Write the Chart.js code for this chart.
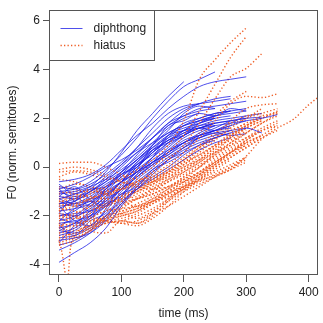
<!DOCTYPE html>
<html>
<head>
<meta charset="utf-8">
<script src="https://cdn.jsdelivr.net/npm/chart.js@4.4.1/dist/chart.umd.min.js"></script>
<style>
  html, body { margin: 0; padding: 0; background: #fff; }
  #wrap { width: 323px; height: 323px; }
</style>
</head>
<body>
<div id="wrap"><canvas id="f0Chart"></canvas></div>
<script>
// sample times (ms) shared by the contours
const timeGrid = [0, 25, 50, 75, 100, 125, 150, 175, 200, 225, 250, 275, 300, 325, 350, 375, 400, 425];
const xTicks = [0, 100, 200, 300, 400];
const yTicks = [-4, -2, 0, 2, 4, 6];

// F0 contours, one value per timeGrid step (contour ends where its array ends)
const diphthong = [
  [-0.6, -0.5, -0.3, 0.1, 0.7, 1.3, 1.8, 2.4, 2.9, 3.3, 3.5, 3.6, 3.7],
  [-1.0, -0.9, -0.6, -0.1, 0.5, 1.2, 2.0, 2.7, 3.3, 3.6, 3.9],
  [-1.3, -1.1, -0.8, -0.2, 0.6, 1.5, 2.2, 2.9, 3.5],
  [-1.5, -1.4, -1.0, -0.5, 0.1, 0.8, 1.6, 2.2, 2.5, 2.6, 2.7, 2.8],
  [-2.0, -1.8, -1.3, -0.8, -0.2, 0.5, 1.2, 1.8, 2.1, 2.3, 2.4],
  [-2.5, -2.3, -1.8, -1.2, -0.6, 0.0, 0.7, 1.3, 1.8, 2.0, 2.2, 2.3, 2.4],
  [-3.9, -3.5, -3.1, -2.5, -1.6, -0.9, -0.3, 0.3, 0.8, 1.2, 1.5, 1.7, 1.9, 2.0, 2.15],
  [-3.0, -2.9, -2.7, -2.2, -1.5, -0.8, -0.2, 0.3, 0.7, 1.0, 1.2, 1.4],
  [-2.8, -2.6, -2.1, -1.5, -0.9, -0.4, 0.2, 0.8, 1.3, 1.6, 1.8, 1.9, 2.0, 2.05],
  [-2.2, -2.0, -1.5, -0.9, -0.3, 0.3, 0.9, 1.4, 1.7, 1.9, 2.1, 2.3],
  [-1.8, -1.7, -1.5, -1.0, -0.4, 0.2, 0.8, 1.3, 1.5, 1.6, 1.8],
  [-1.2, -1.3, -1.1, -0.7, -0.3, 0.1, 0.6, 1.1, 1.5, 1.8, 2.0, 2.1],
  [-0.8, -0.9, -0.7, -0.3, 0.2, 0.8, 1.4, 2.0, 2.4, 2.6],
  [-2.6, -2.7, -2.4, -1.8, -1.0, -0.4, 0.1, 0.5, 0.9, 1.2, 1.4, 1.5, 1.6, 1.4],
  [-1.6, -1.5, -1.2, -0.8, -0.5, -0.1, 0.4, 0.9, 1.3, 1.6, 1.8],
  [-2.3, -2.2, -2.0, -1.6, -1.1, -0.6, -0.1, 0.4, 0.8, 1.1, 1.3, 1.5],
  [-3.2, -3.0, -2.6, -2.0, -1.3, -0.7, -0.2, 0.3, 0.6, 0.9, 1.1],
  [-1.9, -2.0, -1.7, -1.2, -0.6, 0.0, 0.6, 1.2, 1.7, 2.0, 2.2, 2.3],
  [-1.1, -1.0, -0.8, -0.5, -0.1, 0.4, 1.0, 1.6, 2.0, 2.2],
  [-2.7, -2.5, -2.0, -1.3, -0.6, 0.1, 0.7, 1.1, 1.4, 1.6, 1.7, 1.8, 1.9],
  [-1.4, -1.6, -1.4, -1.0, -0.6, -0.2, 0.3, 0.7, 1.0, 1.3, 1.5, 1.6],
  [-2.1, -2.3, -2.1, -1.6, -0.9, -0.3, 0.2, 0.6, 1.0, 1.4, 1.7],
  [-0.9, -0.7, -0.4, 0.0, 0.3, 0.7, 1.2, 1.7, 2.1, 2.4, 2.5, 2.6, 2.7],
  [-2.9, -2.8, -2.5, -2.0, -1.4, -0.9, -0.5, -0.1, 0.3, 0.7, 1.0, 1.2],
  [-1.7, -1.4, -1.0, -0.6, -0.2, 0.3, 0.8, 1.2, 1.5, 1.7, 1.8, 1.9, 2.0],
  [-2.4, -2.1, -1.6, -1.1, -0.6, -0.2, 0.2, 0.6, 1.0, 1.3, 1.5],
  [-1.3, -1.5, -1.3, -0.9, -0.4, 0.1, 0.5, 1.0, 1.4, 1.7, 1.9, 2.0, 2.1, 2.2],
  [-3.4, -3.1, -2.7, -2.1, -1.5, -0.9, -0.4, 0.0, 0.5, 0.9, 1.2, 1.4, 1.6],
  [-2.0, -1.9, -1.8, -1.4, -0.9, -0.4, 0.1, 0.7, 1.2, 1.5, 1.7],
  [-1.0, -1.2, -1.0, -0.6, 0.0, 0.6, 1.2, 1.8, 2.3, 2.6, 2.8, 2.9],
  [-2.6, -2.3, -1.9, -1.4, -0.8, -0.2, 0.4, 1.0, 1.5, 1.9, 2.1, 2.2, 2.3],
  [-1.5, -1.3, -0.9, -0.4, 0.1, 0.6, 1.0, 1.4, 1.7, 1.9, 2.0],
  [-1.9, -1.2, -1.6, -0.9, -0.3, 0.0, 0.6, 1.1, 1.3, 1.6, 1.5, 1.7],
  [-2.4, -2.8, -2.2, -1.9, -1.2, -0.3, 0.2, 0.5, 1.0, 1.2, 1.4, 1.3, 1.37],
  [-0.7, -1.1, -0.9, -0.8, -0.2, 0.3, 0.9, 1.7, 1.9, 2.2, 2.1, 2.4, 2.3],
  [-1.6, -2.2, -2.4, -1.7, -0.7, -0.2, 0.4, 1.3, 1.6, 1.8, 2.0],
  [-3.1, -2.4, -2.0, -1.5, -1.2, -0.5, 0.0, 0.6, 1.1, 1.3, 1.5, 1.8, 2.1],
  [-1.2, -0.8, -1.3, -1.1, -0.6, 0.2, 0.7, 1.0, 1.3, 1.8, 2.1],
  [-2.2, -1.7, -1.4, -1.6, -1.1, -0.8, -0.1, 0.2, 0.6, 1.3, 1.6, 1.9],
  [-0.9, -1.4, -1.8, -1.3, -0.9, -0.1, 0.9, 1.5, 2.2, 2.5, 2.4]
];

const hiatus = [
  [-1.4, -1.3, -1.1, -0.8, -0.5, -0.1, 0.3, 0.9, 1.9, 3.6, 4.4, 5.1, 5.7],
  [-1.8, -1.6, -1.3, -1.0, -0.7, -0.4, 0.0, 0.6, 1.3, 2.3, 3.4, 4.5, 5.35],
  [-2.0, -1.9, -1.6, -1.2, -0.9, -0.6, -0.2, 0.3, 0.9, 1.8, 2.8, 3.7, 4.05, 4.65],
  [-1.6, -1.5, -1.3, -1.1, -0.9, -0.6, -0.3, 0.1, 0.6, 1.2, 1.9, 2.6, 2.9, 2.85, 3.0],
  [-2.4, -2.3, -2.2, -2.1, -2.0, -1.8, -1.4, -1.05, -0.8, -0.55, -0.35, -0.1, 0.45, 1.15, 1.6, 1.95, 2.55, 3.05],
  [0.15, 0.2, 0.2, 0.0, -0.3, -0.5, -0.4, -0.2, 0.1, 0.5, 0.9, 1.4, 1.8, 2.1, 2.2],
  [-0.2, -0.15, -0.2, -0.4, -0.6, -0.7, -0.6, -0.4, -0.1, 0.3, 0.8, 1.3, 1.7, 2.0, 2.25],
  [-2.2, -2.1, -1.9, -1.6, -1.3, -1.0, -0.7, -0.4, 0.0, 0.4, 0.9, 1.3, 1.7, 2.0, 2.3],
  [-2.7, -2.6, -2.4, -2.2, -2.0, -1.8, -1.5, -1.2, -0.8, -0.4, 0.0, 0.4, 0.8, 1.2],
  [-3.0, -2.8, -2.5, -2.3, -2.2, -2.3, -2.0, -1.4, -0.8, -0.3, 0.2, 0.6, 0.9],
  [-1.0, -1.1, -1.2, -1.3, -1.2, -1.0, -0.7, -0.3, 0.1, 0.6, 1.1, 1.6, 2.0, 2.4],
  [-2.5, -2.4, -2.2, -2.2, -2.3, -2.4, -2.1, -1.6, -1.0, -0.5, 0.0, 0.4, 0.8, 1.2, 1.5],
  [-1.9, -2.0, -2.1, -2.2, -2.1, -1.9, -1.5, -1.1, -0.7, -0.3, 0.1, 0.6, 1.0, 1.3],
  [-0.8, -0.9, -1.0, -1.0, -0.9, -0.7, -0.4, 0.0, 0.4, 0.9, 1.4, 1.8, 2.1, 2.2],
  [-1.3, -1.2, -1.2, -1.3, -1.4, -1.3, -1.1, -0.8, -0.5, -0.2, 0.2, 0.6, 1.1, 1.5, 1.8],
  [-3.2, -3.0, -2.6, -2.2, -1.9, -1.7, -1.4, -1.1, -0.8, -0.5, -0.2, 0.1, 0.4],
  [-2.8, -2.7, -2.5, -2.1, -1.7, -1.3, -1.0, -0.6, -0.2, 0.2, 0.6, 1.0, 1.4, 1.8, 2.1],
  [-1.5, -1.6, -1.7, -1.6, -1.4, -1.1, -0.8, -0.5, -0.2, 0.2, 0.7, 1.2, 1.6, 1.9],
  [-2.1, -2.0, -1.8, -1.5, -1.2, -0.9, -0.6, -0.3, 0.0, 0.3, 0.6, 0.9, 1.2, 1.5, 1.7],
  [-0.5, -0.6, -0.8, -0.9, -0.9, -0.8, -0.5, -0.1, 0.3, 0.8, 1.2, 1.5, 1.8],
  [-2.6, -2.5, -2.1, -1.8, -1.7, -1.6, -1.4, -1.2, -0.9, -0.6, -0.3, 0.0, 0.3],
  [-1.7, -1.8, -2.0, -2.2, -2.3, -2.2, -1.9, -1.6, -1.2, -0.8, -0.4, 0.0, 0.4],
  [-2.9, -2.7, -2.4, -2.0, -1.6, -1.3, -0.9, -0.5, -0.1, 0.3, 0.8, 1.3, 1.7, 2.0],
  [-1.1, -1.0, -1.0, -1.1, -1.1, -0.9, -0.6, -0.2, 0.3, 0.8, 1.3, 1.9, 2.4, 2.55, 2.6],
  [-2.3, -2.4, -2.3, -2.0, -1.8, -1.6, -1.3, -1.0, -0.6, -0.2, 0.3, 0.7, 1.1, 1.5],
  [-0.1, 0.0, -0.1, -0.3, -0.6, -0.8, -0.9, -0.8, -0.6, -0.3, 0.1, 0.5, 0.9, 1.3, 1.7],
  [-3.1, -2.9, -2.6, -2.3, -2.2, -2.0, -1.7, -1.3, -0.9, -0.5, -0.1, 0.3],
  [-1.4, -1.5, -1.6, -1.5, -1.3, -1.0, -0.6, -0.2, 0.2, 0.7, 1.2, 1.7, 2.0, 2.2, 2.4],
  [-2.0, -2.1, -2.0, -1.8, -1.5, -1.3, -1.1, -0.8, -0.4, 0.0, 0.4, 0.8, 1.2, 1.6, 1.9],
  [-1.2, -1.3, -1.4, -1.4, -1.3, -1.2, -0.9, -0.6, -0.3, 0.1, 0.5, 1.0, 1.5],
  [-2.5, -2.0, -2.6, -2.7, -2.2, -2.3, -1.9, -1.3, -0.9, -0.4, 0.1, 0.6, 1.0, 1.3],
  [-1.8, -1.4, -0.9, -1.1, -0.8, -0.6, -0.5, -0.2, 0.2, 0.5, 0.9, 1.1, 1.6, 1.9],
  [-0.4, -0.2, -0.3, -0.5, -0.4, -0.2, 0.1, 0.4, 0.8, 1.4, 2.1, 2.7, 3.1],
  [-2.3, -2.9, -2.6, -2.0, -1.9, -2.1, -1.8, -1.4, -1.0, -0.7, -0.4, -0.1, 0.2],
  [-1.5, -1.1, -1.4, -1.7, -1.8, -1.5, -1.2, -0.9, -0.4, 0.0, 0.5, 0.9, 1.4, 1.8, 2.2],
  [-0.9, -0.7, -0.8, -1.1, -1.4, -1.6, -1.3, -0.9, -0.5, 0.0, 0.6, 1.2, 1.7, 2.1]
];

// one hiatus contour that plunges right after onset, sampled more finely there
const hiatusDipTimes = [0, 4, 10, 12, 15, 18, 25, 50, 75, 100, 125, 150, 175, 200, 225, 250, 275, 300];
const hiatusDip = [-3.0, -3.4, -4.4, -4.9, -4.4, -3.4, -2.8, -2.4, -2.1, -1.9, -1.7, -1.4, -1.0, -0.6, -0.2, 0.2, 0.6, 1.0];

const FONT = 'Liberation Sans, Arial, Helvetica, sans-serif';
const BOX = '#555';
const BLUE = 'rgba(30,30,230,0.78)';
const ORANGE = '#ef5e26';

Chart.defaults.font.family = FONT;
Chart.defaults.font.size = 12;
Chart.defaults.color = '#222';

const toPoints = (ys, ts) => ys.map((y, i) => ({ x: ts[i], y: y }));
const blueSet = ys => ({ data: toPoints(ys, timeGrid), borderColor: BLUE, borderWidth: 1 });
const orangeSet = (ys, ts) => ({ data: toPoints(ys, ts || timeGrid), borderColor: ORANGE, borderWidth: 1.4, borderDash: [1.3, 2.2] });

// interleave the two groups so neither sits entirely on top
const datasets = [];
const n = Math.max(diphthong.length, hiatus.length);
for (let i = 0; i < n; i++) {
  if (diphthong[i]) datasets.push(blueSet(diphthong[i]));
  if (hiatus[i]) datasets.push(orangeSet(hiatus[i]));
}
datasets.push(orangeSet(hiatusDip, hiatusDipTimes));

// R-style box around the plot plus the legend in the top-left corner
const boxAndLegend = {
  id: 'boxAndLegend',
  afterDatasetsDraw(chart) {
    const { ctx, chartArea: a } = chart;
    ctx.save();
    ctx.strokeStyle = BOX;
    ctx.lineWidth = 1;
    ctx.strokeRect(Math.round(a.left) + 0.5, Math.round(a.top) + 0.5,
      Math.round(a.right - a.left) - 1, Math.round(a.bottom - a.top) - 1);

    const lx = Math.round(a.left) + 0.5, ly = Math.round(a.top) + 0.5;
    ctx.fillStyle = '#fff';
    ctx.fillRect(lx, ly, 105, 50);
    ctx.strokeRect(lx, ly, 105, 50);

    ctx.lineWidth = 1;
    ctx.strokeStyle = BLUE;
    ctx.beginPath(); ctx.moveTo(lx + 11, ly + 18); ctx.lineTo(lx + 33, ly + 18); ctx.stroke();
    ctx.strokeStyle = ORANGE;
    ctx.lineWidth = 1.4;
    ctx.setLineDash([1.3, 2.2]);
    ctx.beginPath(); ctx.moveTo(lx + 11, ly + 35); ctx.lineTo(lx + 33, ly + 35); ctx.stroke();
    ctx.setLineDash([]);

    ctx.fillStyle = '#222';
    ctx.font = '12px ' + FONT;
    ctx.textBaseline = 'middle';
    ctx.textAlign = 'left';
    ctx.fillText('diphthong', lx + 44, ly + 18);
    ctx.fillText('hiatus', lx + 44, ly + 35);
    ctx.restore();
  }
};

new Chart(document.getElementById('f0Chart'), {
  type: 'line',
  data: { datasets: datasets },
  options: {
    responsive: true,
    maintainAspectRatio: false,
    animation: false,
    layout: { padding: { top: 6, right: 5, left: 0, bottom: 0 } },
    elements: {
      point: { radius: 0, hoverRadius: 0 },
      line: { cubicInterpolationMode: 'monotone', fill: false }
    },
    plugins: { legend: { display: false }, tooltip: { enabled: false } },
    scales: {
      x: {
        type: 'linear',
        min: -16,
        max: 415,
        afterBuildTicks: axis => { axis.ticks = xTicks.map(v => ({ value: v })); },
        afterFit: axis => { axis.height = 48; },
        grid: { drawOnChartArea: false, tickLength: 7, color: BOX },
        border: { display: false },
        ticks: { padding: 3, maxRotation: 0 },
        title: { display: true, text: 'time (ms)', padding: { top: 0, bottom: 2 } }
      },
      y: {
        type: 'linear',
        min: -4.42,
        max: 6.43,
        afterBuildTicks: axis => { axis.ticks = yTicks.map(v => ({ value: v })); },
        afterFit: axis => { axis.width = 49; },
        grid: { drawOnChartArea: false, tickLength: 6, color: BOX },
        border: { display: false },
        ticks: { padding: 3 },
        title: { display: true, text: 'F0 (norm. semitones)', padding: { top: 5, bottom: 0 } }
      }
    }
  },
  plugins: [boxAndLegend]
});
</script>
</body>
</html>
